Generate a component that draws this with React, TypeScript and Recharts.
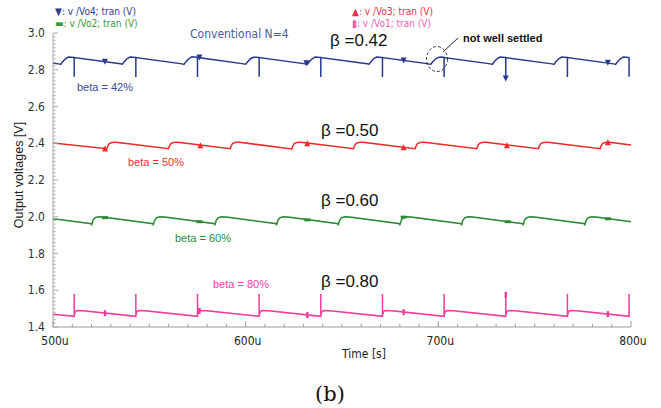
import { ComposedChart, Line, Scatter, XAxis, YAxis } from 'recharts';

type Pt = [number, number];

// Vo4 (beta = 42%) - dark blue, spikes down every ~32us
const vo4: Pt[] = [
  [500, 2.836],
  [503, 2.832], [504, 2.829], [505, 2.843], [506.5, 2.860], [508, 2.869], [509.5, 2.868], [511, 2.866], [511, 2.762], [511, 2.866],
  [535, 2.833], [536, 2.830], [537, 2.844], [538.5, 2.861], [540, 2.869], [541.5, 2.868], [543, 2.866], [543, 2.761], [543, 2.866],
  [567, 2.832], [568, 2.829], [569, 2.843], [570.5, 2.860], [572, 2.870], [573.5, 2.869], [575, 2.867], [575, 2.760], [575, 2.867],
  [599, 2.832], [600, 2.830], [601, 2.843], [602.5, 2.860], [604, 2.868], [605.5, 2.868], [607, 2.866], [607, 2.762], [607, 2.866],
  [631, 2.832], [632, 2.829], [633, 2.843], [634.5, 2.860], [636, 2.869], [637.5, 2.868], [639, 2.866], [639, 2.761], [639, 2.866],
  [663, 2.833], [664, 2.830], [665, 2.844], [666.5, 2.861], [668, 2.869], [669.5, 2.868], [671, 2.866], [671, 2.761], [671, 2.866],
  [695, 2.832], [696, 2.829], [697, 2.842], [698.5, 2.858], [700, 2.867], [701.5, 2.869], [703, 2.867], [703, 2.761], [703, 2.866],
  [727, 2.832], [728, 2.829], [729, 2.843], [730.5, 2.860], [732, 2.869], [733.5, 2.868], [735, 2.866], [735, 2.748], [735, 2.866],
  [759, 2.832], [760, 2.829], [761, 2.843], [762.5, 2.860], [764, 2.869], [765.5, 2.868], [767, 2.866], [767, 2.761], [767, 2.866],
  [791, 2.832], [792, 2.829], [793, 2.843], [794.5, 2.860], [796, 2.869], [797.5, 2.868], [799, 2.866], [799, 2.762],
];

// Vo3 (beta = 50%) - red
const vo3: Pt[] = [
  [500, 2.401],
  [528, 2.370], [528.4, 2.385], [529.2, 2.398], [530.5, 2.404], [532, 2.405], [533, 2.405], [533, 2.409], [533, 2.405],
  [560, 2.370], [560.4, 2.385], [561.2, 2.398], [562.5, 2.404], [564, 2.405], [565, 2.405], [565, 2.409], [565, 2.405],
  [592, 2.370], [592.4, 2.385], [593.2, 2.398], [594.5, 2.404], [596, 2.405], [597, 2.405], [597, 2.409], [597, 2.405],
  [624, 2.369], [624.4, 2.384], [625.2, 2.398], [626.5, 2.404], [628, 2.405], [629, 2.405], [629, 2.409], [629, 2.405],
  [656, 2.370], [656.4, 2.385], [657.2, 2.398], [658.5, 2.404], [660, 2.405], [661, 2.405], [661, 2.409], [661, 2.405],
  [688, 2.370], [688.4, 2.385], [689.2, 2.398], [690.5, 2.404], [692, 2.405], [693, 2.405], [693, 2.409], [693, 2.405],
  [720, 2.370], [720.4, 2.385], [721.2, 2.398], [722.5, 2.404], [724, 2.405], [725, 2.405], [725, 2.409], [725, 2.405],
  [752, 2.370], [752.4, 2.385], [753.2, 2.398], [754.5, 2.404], [756, 2.405], [757, 2.405], [757, 2.409], [757, 2.405],
  [784, 2.370], [784.4, 2.385], [785.2, 2.398], [786.5, 2.404], [788, 2.405], [789, 2.405], [789, 2.409], [789, 2.405],
  [800, 2.391],
];

// Vo2 (beta = 60%) - green
const vo2: Pt[] = [
  [500, 1.989],
  [520, 1.962], [520, 1.953], [520.2, 1.962], [520.8, 1.982], [521.8, 1.995], [523.5, 2.0], [526, 1.998], [526, 2.003], [526, 1.998],
  [552, 1.962], [552, 1.953], [552.2, 1.962], [552.8, 1.982], [553.8, 1.995], [555.5, 2.0], [558, 1.998], [558, 2.003], [558, 1.998],
  [584, 1.962], [584, 1.953], [584.2, 1.962], [584.8, 1.982], [585.8, 1.995], [587.5, 2.0], [590, 1.998], [590, 2.003], [590, 1.998],
  [616, 1.962], [616, 1.953], [616.2, 1.962], [616.8, 1.982], [617.8, 1.995], [619.5, 2.0], [622, 1.998], [622, 2.003], [622, 1.998],
  [648, 1.962], [648, 1.953], [648.2, 1.962], [648.8, 1.982], [649.8, 1.995], [651.5, 2.0], [654, 1.998], [654, 2.003], [654, 1.998],
  [680, 1.962], [680, 1.953], [680.2, 1.962], [680.8, 1.982], [681.8, 1.995], [683.5, 2.0], [686, 1.998], [686, 2.003], [686, 1.998],
  [712, 1.962], [712, 1.953], [712.2, 1.962], [712.8, 1.982], [713.8, 1.995], [715.5, 2.0], [718, 1.998], [718, 2.003], [718, 1.998],
  [744, 1.962], [744, 1.953], [744.2, 1.962], [744.8, 1.982], [745.8, 1.995], [747.5, 2.0], [750, 1.998], [750, 2.003], [750, 1.998],
  [776, 1.962], [776, 1.953], [776.2, 1.962], [776.8, 1.982], [777.8, 1.995], [779.5, 2.0], [782, 1.998], [782, 2.003], [782, 1.998],
  [800, 1.973],
];

// Vo1 (beta = 80%) - pink, spikes up every ~32us
const vo1: Pt[] = [
  [500, 1.469],
  [511, 1.458], [511, 1.580], [511, 1.463], [511.6, 1.484], [512.5, 1.490], [516, 1.488], [516, 1.493], [516, 1.488],
  [543, 1.458], [543, 1.580], [543, 1.463], [543.6, 1.484], [544.5, 1.490], [548, 1.488], [548, 1.493], [548, 1.488],
  [575, 1.458], [575, 1.580], [575, 1.463], [575.6, 1.484], [576.5, 1.490], [580, 1.488], [580, 1.493], [580, 1.488],
  [607, 1.458], [607, 1.580], [607, 1.463], [607.6, 1.484], [608.5, 1.490], [612, 1.488], [612, 1.493], [612, 1.488],
  [639, 1.458], [639, 1.580], [639, 1.463], [639.6, 1.484], [640.5, 1.490], [644, 1.488], [644, 1.493], [644, 1.488],
  [671, 1.458], [671, 1.580], [671, 1.463], [671.6, 1.484], [672.5, 1.490], [676, 1.488], [676, 1.493], [676, 1.488],
  [703, 1.458], [703, 1.580], [703, 1.463], [703.6, 1.484], [704.5, 1.490], [708, 1.488], [708, 1.493], [708, 1.488],
  [735, 1.458], [735, 1.582], [735, 1.463], [735.6, 1.484], [736.5, 1.490], [740, 1.488], [740, 1.493], [740, 1.488],
  [767, 1.458], [767, 1.580], [767, 1.463], [767.6, 1.484], [768.5, 1.490], [772, 1.488], [772, 1.493], [772, 1.488],
  [799, 1.458], [799, 1.580],
];

// marker positions of each trace
const vo4Marks: Pt[] = [[527, 2.843], [576, 2.866], [631.5, 2.835], [682, 2.851], [735, 2.752], [788, 2.838]];
const vo3Marks: Pt[] = [[527, 2.371], [576.5, 2.389], [632, 2.400], [682, 2.378], [735.6, 2.389], [788, 2.405]];
const vo2Marks: Pt[] = [[527, 1.995], [576, 1.973], [632, 1.983], [682, 1.998], [736, 1.973], [788, 1.989]];
const vo1Marks: Pt[] = [[527, 1.475], [576, 1.488], [632, 1.465], [682, 1.481], [735, 1.575], [788, 1.470]];

const xMajorTicks = [500, 600, 700, 800];
const xTickLabels = ['500u', '600u', '700u', '800u'];
const yMajorTicks = [1.4, 1.6, 1.8, 2.0, 2.2, 2.4, 2.6, 2.8, 3.0];
const xTicks = Array.from({ length: 31 }, (_, i) => 500 + i * 10);
const yTicks = Array.from({ length: 81 }, (_, i) => +(1.4 + i * 0.02).toFixed(2));

const BLUE = '#26398f';
const RED = '#f02a2a';
const GREEN = '#2b8a35';
const PINK = '#f03c9c';
const NARROW = '"Liberation Sans Narrow", "DejaVu Sans Condensed", "Roboto Condensed", sans-serif';
const SANS = '"Liberation Sans", Arial, sans-serif';

const rows = (pts: Pt[]) => pts.map(([t, v]) => ({ t, v }));

function XTick(props: any) {
  const { x, y, payload } = props;
  const i = xMajorTicks.indexOf(payload.value);
  const major = i >= 0;
  return (
    <g>
      <line x1={x} x2={x} y1={y} y2={y - (major ? 6 : 3)} stroke="#999" />
      {major && (
        <text x={x + 2} y={y + 14} textAnchor="middle" dominantBaseline="central" fontSize={12} fill="#222" fontFamily={NARROW}>
          {xTickLabels[i]}
        </text>
      )}
    </g>
  );
}

function YTick(props: any) {
  const { x, y, payload } = props;
  const v = payload.value;
  const major = yMajorTicks.some((m) => Math.abs(m - v) < 1e-6);
  return (
    <g>
      <line x1={x} x2={x + (major ? 5 : 2.5)} y1={y} y2={y} stroke="#aaa" />
      {major && (
        <text x={x - 8} y={y} textAnchor="end" dominantBaseline="central" fontSize={12} fill="#333" fontFamily={NARROW}>
          {v.toFixed(1)}
        </text>
      )}
    </g>
  );
}

function marker(kind: string, color: string) {
  return (p: any) => {
    const { cx, cy } = p;
    if (kind === 'down') return <path d={`M${cx - 3},${cy - 3}L${cx + 3},${cy - 3}L${cx},${cy + 3}Z`} fill={color} />;
    if (kind === 'up') return <path d={`M${cx - 3},${cy + 3}L${cx + 3},${cy + 3}L${cx},${cy - 3}Z`} fill={color} />;
    if (kind === 'bar') return <rect x={cx - 3} y={cy - 1.5} width={6} height={3} fill={color} />;
    return <rect x={cx - 1.2} y={cy - 3} width={2.4} height={6} fill={color} />;
  };
}

export default function App() {
  return (
    <div style={{ position: 'relative', width: 661, height: 408, background: '#fff' }}>
      <style>{'body{margin:0}'}</style>
      <ComposedChart width={661} height={408} margin={{ top: 33, right: 30, bottom: 41, left: 13 }}>
        <XAxis
          dataKey="t"
          type="number"
          domain={[500, 800]}
          ticks={xTicks}
          interval={0}
          height={40}
          tickSize={0}
          tickMargin={0}
          tickLine={false}
          stroke="#999"
          tick={<XTick />}
        />
        <YAxis
          dataKey="v"
          type="number"
          domain={[1.4, 3.0]}
          ticks={yTicks}
          interval={0}
          width={40}
          tickSize={0}
          tickMargin={0}
          tickLine={false}
          stroke="#aaa"
          tick={<YTick />}
        />
        <Line data={rows(vo4)} dataKey="v" stroke={BLUE} strokeWidth={1.5} dot={false} activeDot={false} isAnimationActive={false} />
        <Line data={rows(vo3)} dataKey="v" stroke={RED} strokeWidth={1.5} dot={false} activeDot={false} isAnimationActive={false} />
        <Line data={rows(vo2)} dataKey="v" stroke={GREEN} strokeWidth={1.5} dot={false} activeDot={false} isAnimationActive={false} />
        <Line data={rows(vo1)} dataKey="v" stroke={PINK} strokeWidth={1.5} dot={false} activeDot={false} isAnimationActive={false} />
        <Scatter data={rows(vo4Marks)} dataKey="v" shape={marker('down', BLUE)} isAnimationActive={false} />
        <Scatter data={rows(vo3Marks)} dataKey="v" shape={marker('up', RED)} isAnimationActive={false} />
        <Scatter data={rows(vo2Marks)} dataKey="v" shape={marker('bar', GREEN)} isAnimationActive={false} />
        <Scatter data={rows(vo1Marks)} dataKey="v" shape={marker('vbar', PINK)} isAnimationActive={false} />
      </ComposedChart>
      <svg width={661} height={408} style={{ position: 'absolute', left: 0, top: 0, pointerEvents: 'none' }}>
        <g fontFamily={NARROW} fontSize={10} dominantBaseline="central">
          <text x={55} y={11} fill="#2e3c8c">▼: v /Vo4; tran (V)</text>
          <text x={55} y={23} fill="#3a9a3a">▬: v /Vo2; tran (V)</text>
          <text x={352} y={11} fill="#e8304a">▲: v /Vo3; tran (V)</text>
          <text x={352} y={23} fill="#f060b0">▮: v /Vo1; tran (V)</text>
          <text x={190} y={34} fill="#4a5aa0" fontSize={12}>Conventional N=4</text>
        </g>
        <g fontFamily={SANS} fontSize={17} fill="#111" dominantBaseline="central">
          <text x={330} y={40}>β =0.42</text>
          <text x={321} y={130}>β =0.50</text>
          <text x={321} y={200}>β =0.60</text>
          <text x={321} y={281}>β =0.80</text>
        </g>
        <text x={463} y={38} fontFamily={SANS} fontSize={11} fontWeight="bold" fill="#111" dominantBaseline="central">not well settled</text>
        <line x1={458} y1={38} x2={443} y2={52} stroke="#222" strokeWidth={1} />
        <ellipse cx={437} cy={59} rx={10.5} ry={12.5} fill="none" stroke="#333" strokeDasharray="3 2" />
        <g fontFamily={SANS} fontSize={11} dominantBaseline="central">
          <text x={77} y={87} fill="#3a4a9a">beta = 42%</text>
          <text x={128} y={162} fill="#f03030">beta = 50%</text>
          <text x={175} y={238} fill="#2b8a35">beta = 60%</text>
          <text x={213} y={284} fill="#f040a8">beta = 80%</text>
        </g>
        <text x={19} y={175} transform="rotate(-90 19 175)" textAnchor="middle" dominantBaseline="central" fontFamily={SANS} fontSize={12.5} fill="#222">Output voltages [V]</text>
        <text x={364} y={354} textAnchor="middle" dominantBaseline="central" fontFamily={NARROW} fontSize={12} fill="#222">Time [s]</text>
        <text x={330} y={394} textAnchor="middle" dominantBaseline="central" fontFamily='"DejaVu Serif", serif' fontSize={21} fill="#111">(b)</text>
      </svg>
    </div>
  );
}
